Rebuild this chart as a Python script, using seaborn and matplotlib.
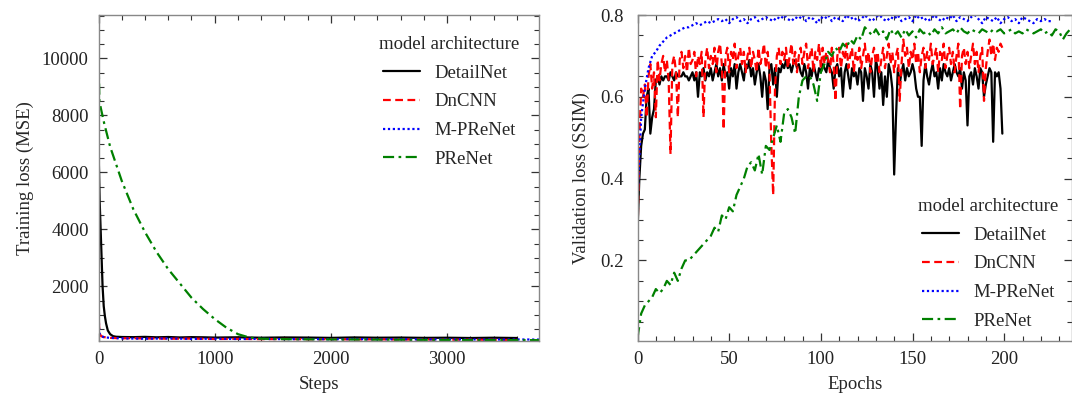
import numpy as np
import pandas as pd
import matplotlib
matplotlib.use("Agg")
import matplotlib.pyplot as plt
import seaborn as sns
from matplotlib.ticker import MultipleLocator

# ---------------- data: training loss (left) ----------------
detail_steps = [0, 5, 10, 20, 30, 35, 45, 55, 65, 80, 100, 125, 150, 200, 300, 400, 500, 600, 700, 800,
                900, 1000, 1200, 1400, 1600, 1800, 2000, 2200, 2400, 2600, 2800, 3000, 3200, 3400, 3600]
detail_loss = [6800, 6000, 5000, 3800, 2600, 2000, 1300, 950, 700, 450, 320, 250, 230, 220, 215, 225, 210, 220,
               205, 215, 210, 200, 210, 195, 205, 200, 190, 205, 195, 200, 190, 195, 185, 195, 185]

dncnn_steps = [0, 5, 10, 20, 40, 100, 200, 300, 400, 500, 600, 800, 1000, 1200, 1400, 1600, 1800, 2000,
               2200, 2400, 2600, 2800, 3000, 3200, 3400, 3600]
dncnn_loss = [1200, 600, 350, 260, 220, 190, 175, 180, 165, 170, 160, 165, 150, 155, 145, 150, 140, 145,
              135, 140, 130, 135, 125, 130, 120, 120]

mpre_steps = [0, 5, 10, 20, 50, 100, 200, 300, 400, 600, 800, 1000, 1200, 1400, 1600, 1800, 2000, 2200,
              2400, 2600, 2800, 3000, 3200, 3400, 3600, 3800]
mpre_loss = [1400, 500, 330, 260, 210, 190, 170, 165, 160, 170, 155, 160, 150, 155, 145, 150, 140, 150,
             140, 145, 135, 140, 135, 130, 135, 130]

pre_steps = [0, 3, 8, 20, 50, 100, 150, 200, 300, 400, 500, 600, 700, 800, 900, 1000, 1100, 1200, 1300,
             1400, 1500, 1700, 2000, 2300, 2600, 2900, 3200, 3500, 3800]
pre_loss = [11500, 9500, 8500, 8250, 7700, 6900, 6300, 5700, 4700, 3900, 3200, 2600, 2100, 1600, 1200, 850,
            550, 320, 200, 160, 150, 140, 135, 130, 125, 120, 115, 110, 110]

# ---------------- data: validation SSIM (right) ----------------
detail_val = [
    0.27, 0.40, 0.48, 0.51, 0.52, 0.60, 0.62, 0.51, 0.55, 0.57,
    0.64, 0.65, 0.63, 0.65, 0.64, 0.65, 0.65, 0.64, 0.66, 0.65,
    0.64, 0.66, 0.65, 0.65, 0.65, 0.66, 0.65, 0.65, 0.64, 0.65,
    0.66, 0.64, 0.66, 0.60, 0.66, 0.65, 0.67, 0.64, 0.66, 0.65,
    0.67, 0.64, 0.66, 0.68, 0.65, 0.67, 0.64, 0.68, 0.65, 0.66,
    0.62, 0.67, 0.65, 0.68, 0.62, 0.66, 0.68, 0.66, 0.64, 0.68,
    0.67, 0.69, 0.65, 0.67, 0.63, 0.66, 0.68, 0.65, 0.60, 0.66,
    0.64, 0.57, 0.67, 0.68, 0.63, 0.67, 0.60, 0.67, 0.66, 0.68,
    0.67, 0.69, 0.67, 0.68, 0.66, 0.68, 0.69, 0.67, 0.68, 0.66,
    0.65, 0.68, 0.66, 0.62, 0.67, 0.65, 0.68, 0.66, 0.64, 0.67,
    0.66, 0.68, 0.67, 0.66, 0.69, 0.67, 0.66, 0.62, 0.67, 0.68,
    0.65, 0.67, 0.60, 0.66, 0.68, 0.65, 0.62, 0.67, 0.65, 0.66,
    0.63, 0.67, 0.66, 0.59, 0.67, 0.65, 0.62, 0.68, 0.66, 0.60,
    0.69, 0.67, 0.62, 0.66, 0.58, 0.65, 0.60, 0.68, 0.66, 0.62,
    0.41, 0.55, 0.67, 0.63, 0.66, 0.68, 0.64, 0.67, 0.65, 0.66,
    0.68, 0.66, 0.62, 0.60, 0.60, 0.48, 0.64, 0.68, 0.65, 0.63,
    0.66, 0.68, 0.65, 0.66, 0.62, 0.67, 0.64, 0.68, 0.66, 0.65,
    0.67, 0.64, 0.66, 0.68, 0.66, 0.65, 0.67, 0.62, 0.66, 0.64,
    0.53, 0.65, 0.66, 0.63, 0.67, 0.65, 0.62, 0.67, 0.66, 0.60,
    0.63, 0.65, 0.67, 0.66, 0.49, 0.66, 0.65, 0.66, 0.62, 0.51]

dncnn_val = [
    0.25, 0.50, 0.62, 0.60, 0.63, 0.55, 0.65, 0.68, 0.62, 0.66,
    0.55, 0.69, 0.64, 0.68, 0.70, 0.66, 0.69, 0.64, 0.46, 0.68,
    0.70, 0.66, 0.55, 0.69, 0.71, 0.67, 0.70, 0.66, 0.72, 0.68,
    0.69, 0.71, 0.65, 0.70, 0.68, 0.71, 0.55, 0.69, 0.72, 0.67,
    0.70, 0.68, 0.72, 0.66, 0.71, 0.73, 0.68, 0.52, 0.70, 0.72,
    0.66, 0.71, 0.69, 0.73, 0.67, 0.70, 0.72, 0.68, 0.71, 0.66,
    0.70, 0.72, 0.67, 0.71, 0.69, 0.66, 0.72, 0.68, 0.70, 0.73,
    0.67, 0.71, 0.66, 0.48, 0.36, 0.62, 0.70, 0.72, 0.68, 0.71,
    0.69, 0.72, 0.67, 0.70, 0.73, 0.68, 0.71, 0.66, 0.70, 0.72,
    0.68, 0.71, 0.73, 0.67, 0.70, 0.72, 0.66, 0.71, 0.69, 0.73,
    0.67, 0.72, 0.68, 0.71, 0.69, 0.66, 0.72, 0.68, 0.59, 0.70,
    0.72, 0.67, 0.71, 0.69, 0.73, 0.67, 0.70, 0.72, 0.66, 0.71,
    0.69, 0.72, 0.67, 0.70, 0.73, 0.68, 0.71, 0.66, 0.70, 0.72,
    0.68, 0.71, 0.66, 0.69, 0.72, 0.67, 0.70, 0.73, 0.68, 0.71,
    0.66, 0.70, 0.72, 0.59, 0.68, 0.74, 0.70, 0.72, 0.67, 0.71,
    0.69, 0.73, 0.68, 0.71, 0.66, 0.70, 0.72, 0.67, 0.71, 0.69,
    0.73, 0.68, 0.70, 0.72, 0.66, 0.71, 0.69, 0.73, 0.67, 0.70,
    0.72, 0.68, 0.71, 0.66, 0.70, 0.73, 0.57, 0.70, 0.72, 0.68,
    0.71, 0.67, 0.70, 0.73, 0.68, 0.71, 0.66, 0.70, 0.72, 0.59,
    0.67, 0.71, 0.74, 0.70, 0.73, 0.69, 0.72, 0.71, 0.73, 0.72]

mpre_epochs = list(range(0, 227, 2))
mpre_val = [
    0.35, 0.55, 0.62, 0.67, 0.70, 0.71, 0.725, 0.735, 0.745, 0.75,
    0.755, 0.76, 0.765, 0.77, 0.77, 0.775, 0.78, 0.775, 0.78, 0.785,
    0.78, 0.785, 0.79, 0.785, 0.79, 0.78, 0.79, 0.795, 0.785, 0.79,
    0.78, 0.79, 0.795, 0.785, 0.79, 0.795, 0.79, 0.785, 0.795, 0.79,
    0.80, 0.79, 0.785, 0.795, 0.79, 0.80, 0.785, 0.795, 0.79, 0.78,
    0.795, 0.79, 0.80, 0.785, 0.795, 0.79, 0.785, 0.80, 0.79, 0.795,
    0.785, 0.79, 0.80, 0.79, 0.785, 0.795, 0.80, 0.79, 0.785, 0.795,
    0.79, 0.80, 0.785, 0.79, 0.795, 0.785, 0.80, 0.79, 0.795, 0.785,
    0.79, 0.80, 0.79, 0.785, 0.795, 0.79, 0.80, 0.785, 0.795, 0.79,
    0.785, 0.795, 0.80, 0.79, 0.78, 0.795, 0.79, 0.785, 0.795, 0.78,
    0.79, 0.795, 0.785, 0.79, 0.78, 0.795, 0.79, 0.785, 0.78, 0.79,
    0.785, 0.79, 0.785, 0.785]

pre_epochs = list(range(0, 238, 2))
pre_val = [
    0.01, 0.07, 0.09, 0.10, 0.11, 0.13, 0.12, 0.13, 0.15, 0.14,
    0.17, 0.15, 0.18, 0.20, 0.20, 0.21, 0.22, 0.23, 0.24, 0.25,
    0.26, 0.28, 0.27, 0.31, 0.30, 0.33, 0.32, 0.36, 0.38, 0.40,
    0.43, 0.44, 0.42, 0.46, 0.41, 0.48, 0.47, 0.50, 0.53, 0.49,
    0.56, 0.57, 0.55, 0.51, 0.60, 0.64, 0.65, 0.65, 0.63, 0.59,
    0.66, 0.68, 0.71, 0.70, 0.72, 0.71, 0.73, 0.72, 0.74, 0.73,
    0.75, 0.74, 0.77, 0.76, 0.75, 0.765, 0.75, 0.76, 0.74, 0.765,
    0.75, 0.76, 0.745, 0.765, 0.75, 0.76, 0.745, 0.765, 0.755, 0.76,
    0.75, 0.765, 0.755, 0.77, 0.755, 0.76, 0.765, 0.755, 0.77, 0.76,
    0.755, 0.765, 0.76, 0.755, 0.765, 0.76, 0.755, 0.765, 0.76, 0.765,
    0.755, 0.76, 0.765, 0.755, 0.76, 0.755, 0.765, 0.76, 0.755, 0.76,
    0.765, 0.755, 0.76, 0.75, 0.765, 0.76, 0.74, 0.755, 0.765]

models = ["DetailNet", "DnCNN", "M-PReNet", "PReNet"]
colors = {"DetailNet": "black", "DnCNN": "red", "M-PReNet": "blue", "PReNet": "green"}
styles = {"DetailNet": "-", "DnCNN": (0, (3.5, 2)), "M-PReNet": (0, (1, 1.2)), "PReNet": (0, (5, 2, 1.2, 2))}

# ---------------- figure ----------------
sns.set_style("ticks")
plt.rcParams["font.family"] = ["Liberation Serif", "DejaVu Serif"]

W, H = 1072, 401
fig = plt.figure(figsize=(W / 100, H / 100), dpi=100)


def ax_rect(x0, y0, x1, y1):
    return [x0 / W, 1 - y1 / H, (x1 - x0) / W, (y1 - y0) / H]


ax1 = fig.add_axes(ax_rect(98.5, 15, 539, 341))
ax2 = fig.add_axes(ax_rect(637.5, 15, 1072, 341))

train = {
    "DetailNet": (detail_steps, detail_loss),
    "DnCNN": (dncnn_steps, dncnn_loss),
    "M-PReNet": (mpre_steps, mpre_loss),
    "PReNet": (pre_steps, pre_loss),
}
val = {
    "DetailNet": (list(range(len(detail_val))), detail_val),
    "DnCNN": (list(range(len(dncnn_val))), dncnn_val),
    "M-PReNet": (mpre_epochs, mpre_val),
    "PReNet": (pre_epochs, pre_val),
}

for ax, d in ((ax1, train), (ax2, val)):
    for m in models:
        x, y = d[m]
        df = pd.DataFrame({"x": x, "y": y})
        sns.lineplot(data=df, x="x", y="y", ax=ax, color=colors[m], linestyle=styles[m],
                     linewidth=1.6, label=m, estimator=None, sort=False)

ax1.set_xlim(0, 3790)
ax1.set_ylim(80, 11520)
ax1.xaxis.set_major_locator(MultipleLocator(1000))
ax1.xaxis.set_minor_locator(MultipleLocator(200))
ax1.yaxis.set_minor_locator(MultipleLocator(500))
ax1.set_yticks([2000, 4000, 6000, 8000, 10000])
ax1.set_xlabel("Steps", fontsize=13.5, labelpad=6)
ax1.set_ylabel("Training loss (MSE)", fontsize=13.5, labelpad=6)

ax2.set_xlim(0, 237)
ax2.set_ylim(0.003, 0.8)
ax2.xaxis.set_major_locator(MultipleLocator(50))
ax2.xaxis.set_minor_locator(MultipleLocator(10))
ax2.yaxis.set_major_locator(MultipleLocator(0.2))
ax2.yaxis.set_minor_locator(MultipleLocator(0.05))
ax2.set_xlabel("Epochs", fontsize=13.5, labelpad=6)
ax2.set_ylabel("Validation loss (SSIM)", fontsize=13.5, labelpad=7)

for ax in (ax1, ax2):
    for s in ax.spines.values():
        s.set_color("#888888")
        s.set_linewidth(1.0)
    ax.tick_params(which="both", direction="in", top=True, right=True, colors="#333333",
                   labelcolor="#222222", labelsize=13.5)
    ax.tick_params(which="major", length=6, width=0.9, pad=7)
    ax.tick_params(which="minor", length=3.5, width=0.8)

ax2.tick_params(axis="y", which="major", pad=10)

leg_kw = dict(title="model architecture", frameon=False, fontsize=13.5, title_fontsize=13.5,
              handlelength=2.0, handletextpad=0.75, labelspacing=0.62, borderpad=0,
              borderaxespad=0, loc="upper left", bbox_transform=fig.transFigure)
ax1.legend(bbox_to_anchor=(379 / W, 1 - 36 / H), **leg_kw)
ax2.legend(bbox_to_anchor=(918 / W, 1 - 198 / H), **leg_kw)

fig.savefig("out.png", dpi=100)
